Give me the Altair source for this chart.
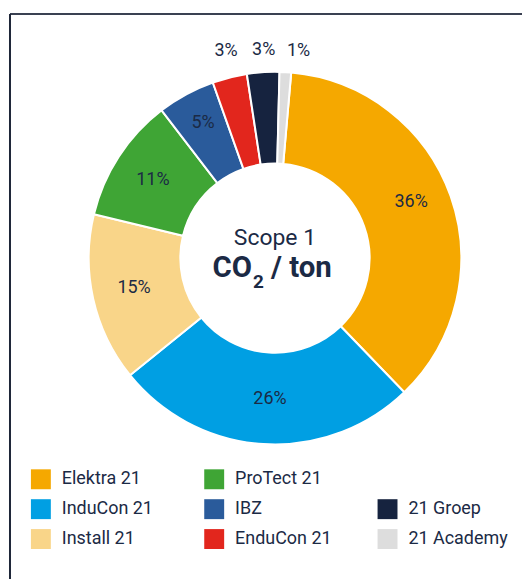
import altair as alt
import pandas as pd
import math

companies = ["Elektra 21", "InduCon 21", "Install 21", "ProTect 21", "IBZ", "EnduCon 21", "21 Groep", "21 Academy"]
shares = [36.4, 26.4, 14.6, 10.8, 5.0, 3.0, 2.8, 1.0]
labels = ["36%", "26%", "15%", "11%", "5%", "3%", "3%", "1%"]
colors = ["#F5A800", "#009FE3", "#F9D589", "#3FA535", "#2A5B9B", "#E2261D", "#16233F", "#DDDDDD"]
legend_col = [0, 0, 0, 1, 1, 1, 2, 2]
legend_row = [0, 1, 2, 0, 1, 2, 1, 2]
outside = [False, False, False, False, False, True, True, True]
# small label nudges (px)
nudge_dx = [0, 4, 0, -1, -3, 2, 2, 12]
nudge_dy = [-8, -3, -2, 1, -8, -4, 1, 2]

df = pd.DataFrame({
    "company": companies, "share": shares, "label": labels, "idx": list(range(len(companies))),
    "col": legend_col, "row": legend_row, "outside": outside,
})

W, H = 514, 567
offset = math.radians(5)
theta_scale = alt.Scale(range=[offset, offset + 2 * math.pi])
color_scale = alt.Scale(domain=companies, range=colors)
CX, CY = 266, 245
TXT = "#1B2A45"
FONT = "Roboto"

base = alt.Chart(df)
theta = alt.Theta("share:Q", stack=True, scale=theta_scale)
order = alt.Order("idx:Q")

arcs = base.mark_arc(outerRadius=187, innerRadius=95, stroke="white", strokeWidth=2).encode(
    theta=theta, order=order,
    color=alt.Color("company:N", scale=color_scale, legend=None),
    x=alt.value(CX), y=alt.value(CY),
)

label_layers = []
for i, c in enumerate(companies):
    label_layers.append(
        base.transform_calculate(lab=f"datum.idx == {i} ? datum.label : ''").mark_text(
            radius=210 if outside[i] else 145, font=FONT, fontSize=18, color=TXT,
            dx=nudge_dx[i], dy=nudge_dy[i]
        ).encode(theta=theta, order=order, text="lab:N", x=alt.value(CX), y=alt.value(CY))
    )

center1 = alt.Chart(pd.DataFrame({"t": ["Scope 1"]})).mark_text(
    font=FONT, fontSize=23, color=TXT
).encode(text="t:N", x=alt.value(CX), y=alt.value(225))

# "CO₂ / ton" built from three pieces so the subscript matches the reference
co = alt.Chart(pd.DataFrame({"t": ["CO"]})).mark_text(
    font=FONT, fontSize=29.5, fontWeight="bold", color=TXT, align="right", baseline="alphabetic"
).encode(text="t:N", x=alt.value(243), y=alt.value(264))
sub2 = alt.Chart(pd.DataFrame({"t": ["2"]})).mark_text(
    font=FONT, fontSize=19, fontWeight="bold", color=TXT, align="left", baseline="alphabetic"
).encode(text="t:N", x=alt.value(244), y=alt.value(275))
ton = alt.Chart(pd.DataFrame({"t": ["/ ton"]})).mark_text(
    font=FONT, fontSize=29.5, fontWeight="bold", color=TXT, align="left", baseline="alphabetic"
).encode(text="t:N", x=alt.value(262), y=alt.value(264))

xs = alt.X("col:Q", scale=alt.Scale(domain=[0, 2], range=[31, 379]), axis=None)
ys = alt.Y("row:Q", scale=alt.Scale(domain=[0, 2], range=[467, 527]), axis=None)

leg_sq = base.mark_square(size=400, opacity=1).encode(
    x=xs, y=ys, color=alt.Color("company:N", scale=color_scale, legend=None)
)
leg_tx = base.mark_text(align="left", dx=21, font=FONT, fontSize=18, color=TXT).encode(
    x=xs, y=ys, text="company:N"
)

frame_top = alt.Chart(pd.DataFrame({"k": [0]})).mark_rule(color="#3A4152", strokeWidth=2).encode(
    x=alt.value(0), x2=alt.value(W), y=alt.value(0)
)
frame_left = alt.Chart(pd.DataFrame({"k": [0]})).mark_rule(color="#1E2638", strokeWidth=2).encode(
    x=alt.value(0), y=alt.value(0), y2=alt.value(H)
)

chart = alt.layer(
    arcs, *label_layers, center1, co, sub2, ton, leg_sq, leg_tx, frame_top, frame_left
).properties(
    width=W, height=H,
    padding={"left": 1, "top": 4, "right": 0, "bottom": 0},
).configure_view(stroke=None)

chart.save("out.html", embed_options={"renderer": "svg", "actions": False})
